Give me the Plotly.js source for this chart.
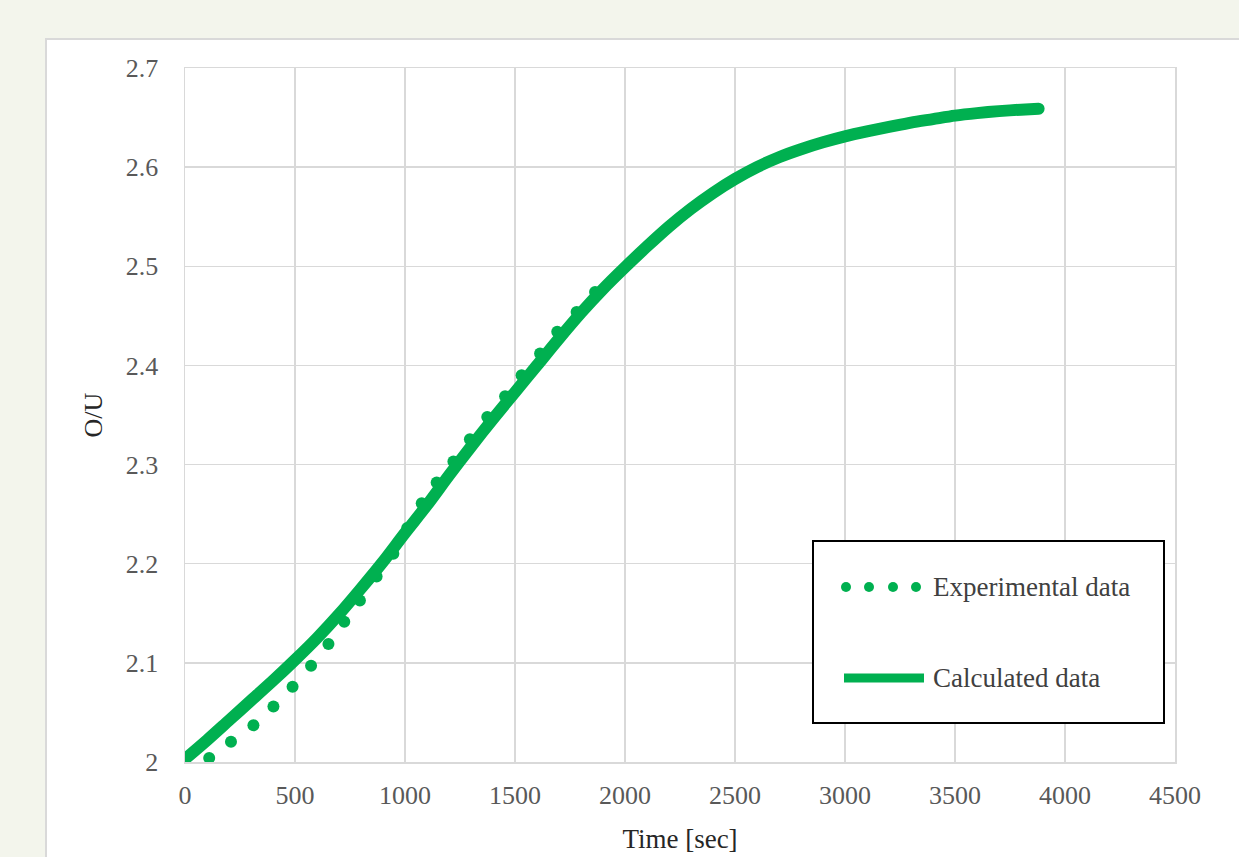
<!DOCTYPE html>
<html>
<head>
<meta charset="utf-8">
<script src="https://cdn.plot.ly/plotly-3.0.1.min.js"></script>
<style>
  html, body { margin: 0; padding: 0; width: 1239px; height: 857px; overflow: hidden; background: #f3f5ec; }
  #panel { position: absolute; left: 45px; top: 38px; width: 1300px; height: 900px; background: #ffffff; border: 2px solid #d9d9d9; box-sizing: border-box; }
  #chart { position: absolute; left: 0; top: 0; width: 1239px; height: 857px; }
  #chart path.js-line { stroke-linecap: round; stroke-linejoin: round; }
</style>
</head>
<body>
<div id="panel"></div>
<div id="chart"></div>
<script>
// ---- Data ----
const timeCalc = [0, 100, 200, 300, 400, 500, 600, 700, 800, 900, 1000,
  1100, 1200, 1300, 1400, 1500, 1600, 1700, 1800, 1900, 2000,
  2100, 2200, 2300, 2400, 2500, 2600, 2700, 2800, 2900, 3000,
  3100, 3200, 3300, 3400, 3500, 3600, 3700, 3800, 3880];
const ouCalc = [2.003, 2.022, 2.042, 2.062, 2.082, 2.103, 2.125, 2.149, 2.175, 2.202, 2.231,
  2.259, 2.289, 2.318, 2.346, 2.373, 2.400, 2.427, 2.453, 2.477, 2.499,
  2.520, 2.540, 2.558, 2.574, 2.588, 2.600, 2.610, 2.618, 2.625, 2.631,
  2.636, 2.6405, 2.645, 2.6485, 2.652, 2.6545, 2.6565, 2.658, 2.659];

const timeExp = [110, 209, 311, 402, 489, 573, 652, 724, 795, 871, 947, 1010,
  1076, 1144, 1220, 1295, 1374, 1455, 1530, 1614, 1692, 1780, 1864];
const ouExp = [2.004, 2.0205, 2.037, 2.056, 2.076, 2.097, 2.119, 2.1415, 2.163, 2.187, 2.21, 2.236,
  2.261, 2.282, 2.303, 2.3255, 2.348, 2.369, 2.39, 2.412, 2.434, 2.454, 2.474];

const seriesNames = ["Experimental data", "Calculated data"];
const xTickVals = [0, 500, 1000, 1500, 2000, 2500, 3000, 3500, 4000, 4500];
const yTickVals = [2, 2.1, 2.2, 2.3, 2.4, 2.5, 2.6, 2.7];
const yTickText = ["2", "2.1", "2.2", "2.3", "2.4", "2.5", "2.6", "2.7"];

// ---- Style ----
const GREEN = "#00b050";
const W = 1239, H = 857;
const M = { l: 185, r: 64, t: 68, b: 95 };
const plotW = W - M.l - M.r, plotH = H - M.t - M.b;
// pixel -> paper helpers for the legend box
const px = x => (x - M.l) / plotW;
const py = y => (H - M.b - y) / plotH;

const traces = [
  { x: timeExp, y: ouExp, name: seriesNames[0], type: "scatter", mode: "markers",
    marker: { color: GREEN, size: 12 }, showlegend: false, hoverinfo: "x+y" },
  { x: timeCalc, y: ouCalc, name: seriesNames[1], type: "scatter", mode: "lines",
    line: { color: GREEN, width: 12, shape: "spline", smoothing: 0.8 }, showlegend: false, hoverinfo: "x+y" }
];

const tickFont = { family: "Liberation Serif, Times New Roman, serif", size: 26, color: "#595959" };
const titleFont = { family: "Liberation Serif, Times New Roman, serif", size: 27, color: "#262626" };

// custom legend (box, symbols, labels)
const legendShapes = [
  { type: "rect", xref: "paper", yref: "paper", x0: px(813), x1: px(1164), y0: py(723), y1: py(541),
    line: { color: "#000000", width: 2 }, fillcolor: "#ffffff", layer: "above" },
  { type: "line", xref: "paper", yref: "paper", x0: px(844), x1: px(924), y0: py(678), y1: py(678),
    line: { color: GREEN, width: 9 }, layer: "above" }
];
[846, 869, 893, 916].forEach(cx => {
  legendShapes.push({ type: "circle", xref: "paper", yref: "paper",
    xsizemode: "pixel", ysizemode: "pixel", xanchor: px(cx), yanchor: py(587),
    x0: -5, x1: 5, y0: -5, y1: 5, fillcolor: GREEN, line: { width: 0 }, layer: "above" });
});

const legendFont = { family: "Liberation Serif, Times New Roman, serif", size: 27, color: "#404040" };
const annotations = [
  { xref: "paper", yref: "paper", x: px(931), y: py(587), xanchor: "left", yanchor: "middle",
    text: seriesNames[0], showarrow: false, font: legendFont },
  { xref: "paper", yref: "paper", x: px(931), y: py(678), xanchor: "left", yanchor: "middle",
    text: seriesNames[1], showarrow: false, font: legendFont }
];

const layout = {
  width: W, height: H,
  margin: M,
  paper_bgcolor: "rgba(0,0,0,0)",
  plot_bgcolor: "#ffffff",
  showlegend: false,
  xaxis: {
    range: [0, 4500], tickvals: xTickVals, ticktext: xTickVals.map(String),
    showgrid: true, gridcolor: "#d9d9d9", gridwidth: 1.5,
    showline: true, linecolor: "#d9d9d9", linewidth: 1.5, mirror: true,
    zeroline: false, ticks: "outside", ticklen: 9, tickcolor: "rgba(0,0,0,0)",
    tickfont: tickFont,
    title: { text: "Time [sec]", font: titleFont, standoff: 20 }
  },
  yaxis: {
    range: [2, 2.7], tickvals: yTickVals, ticktext: yTickText,
    showgrid: true, gridcolor: "#d9d9d9", gridwidth: 1.5,
    showline: true, linecolor: "#d9d9d9", linewidth: 1.5, mirror: true,
    zeroline: false, ticks: "outside", ticklen: 20, tickcolor: "rgba(0,0,0,0)",
    tickfont: tickFont,
    title: { text: "O/U", font: { family: titleFont.family, size: 26, color: "#262626" }, standoff: 15 }
  },
  shapes: legendShapes,
  annotations: annotations
};

Plotly.newPlot("chart", traces, layout, { displayModeBar: false, staticPlot: true });
</script>
</body>
</html>
